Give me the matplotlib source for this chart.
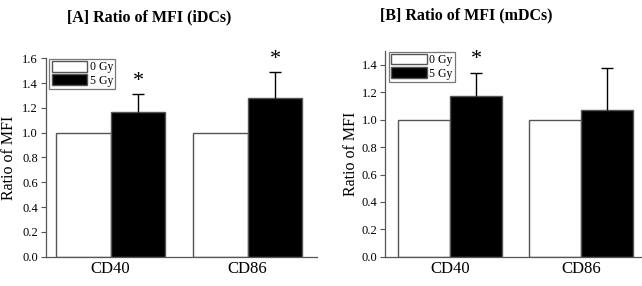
import numpy as np
import matplotlib.pyplot as plt
from matplotlib.patches import Patch

plt.rcParams['font.family'] = ['Liberation Serif', 'DejaVu Serif']

# data
markers = ["CD40", "CD86"]
series = ["0 Gy", "5 Gy"]

idc_0gy = [1.0, 1.0]
idc_5gy = [1.17, 1.28]
idc_err = [0.14, 0.21]
idc_sig = [True, True]

mdc_0gy = [1.0, 1.0]
mdc_5gy = [1.17, 1.07]
mdc_err = [0.17, 0.31]
mdc_sig = [True, False]

EDGE = "#555555"


def panel(ax, v0, v5, err, sig, ymax, yticks, xlim, star_gap, label_x):
    x = np.arange(len(markers))
    w = 0.40
    ax.bar(x - w / 2, v0, w, color="white", edgecolor=EDGE, linewidth=1.0)
    ax.bar(x + w / 2, v5, w, color="black", edgecolor=EDGE, linewidth=1.0)
    _, caps, _ = ax.errorbar(x + w / 2, v5, yerr=[np.zeros(len(err)), err],
                             fmt="none", ecolor="black", elinewidth=1.0,
                             capsize=4, capthick=1.0)
    caps[0].set_visible(False)  # only the upper cap
    for xi, v, e, s in zip(x, v5, err, sig):
        if s:
            ax.text(xi + w / 2, v + e + star_gap, "*", ha="center", va="center",
                    fontsize=16)
    ax.set_xlim(*xlim)
    ax.set_ylim(0, ymax)
    ax.set_yticks(yticks)
    ax.set_yticklabels([f"{t:.1f}" for t in yticks], fontsize=9)
    ax.set_xticks(x)
    ax.set_xticklabels(markers, fontsize=12)
    ax.tick_params(axis="x", length=0, pad=3)
    ax.tick_params(axis="y", direction="out", length=3.5, width=0.8,
                   color=EDGE, pad=2)
    for side in ("top", "right"):
        ax.spines[side].set_visible(False)
    for side in ("left", "bottom"):
        ax.spines[side].set_color(EDGE)
        ax.spines[side].set_linewidth(0.9)
    ax.set_ylabel("Ratio of MFI", fontsize=11.5)
    ax.yaxis.set_label_coords(label_x, 0.5)
    handles = [Patch(facecolor="white", edgecolor=EDGE, label=series[0]),
               Patch(facecolor="black", edgecolor=EDGE, label=series[1])]
    leg = ax.legend(handles=handles, loc="upper left",
                    bbox_to_anchor=(0.005, 1.01), fontsize=8.5, frameon=True,
                    fancybox=False, edgecolor=EDGE, handlelength=3.0,
                    handleheight=1.0, handletextpad=0.2, borderpad=0.2,
                    labelspacing=0.1, borderaxespad=0.2)
    leg.get_frame().set_linewidth(0.9)


fig = plt.figure(figsize=(6.42, 2.86), dpi=100)
ax1 = fig.add_axes([0.0712, 0.1024, 0.422, 0.694])
ax2 = fig.add_axes([0.600, 0.1024, 0.398, 0.7185])

panel(ax1, idc_0gy, idc_5gy, idc_err, idc_sig, 1.6,
      np.arange(0, 1.61, 0.2), (-0.474, 1.504), 0.10, -0.106)
panel(ax2, mdc_0gy, mdc_5gy, mdc_err, mdc_sig, 1.5,
      np.arange(0, 1.41, 0.2), (-0.497, 1.459), 0.10, -0.103)

fig.text(149 / 642, 1 - 17 / 286, "[A] Ratio of MFI (iDCs)", ha="center",
         va="center", fontsize=11.5, fontweight="bold")
fig.text(466 / 642, 1 - 15 / 286, "[B] Ratio of MFI (mDCs)", ha="center",
         va="center", fontsize=11.5, fontweight="bold")

fig.savefig("out.png", dpi=100)
